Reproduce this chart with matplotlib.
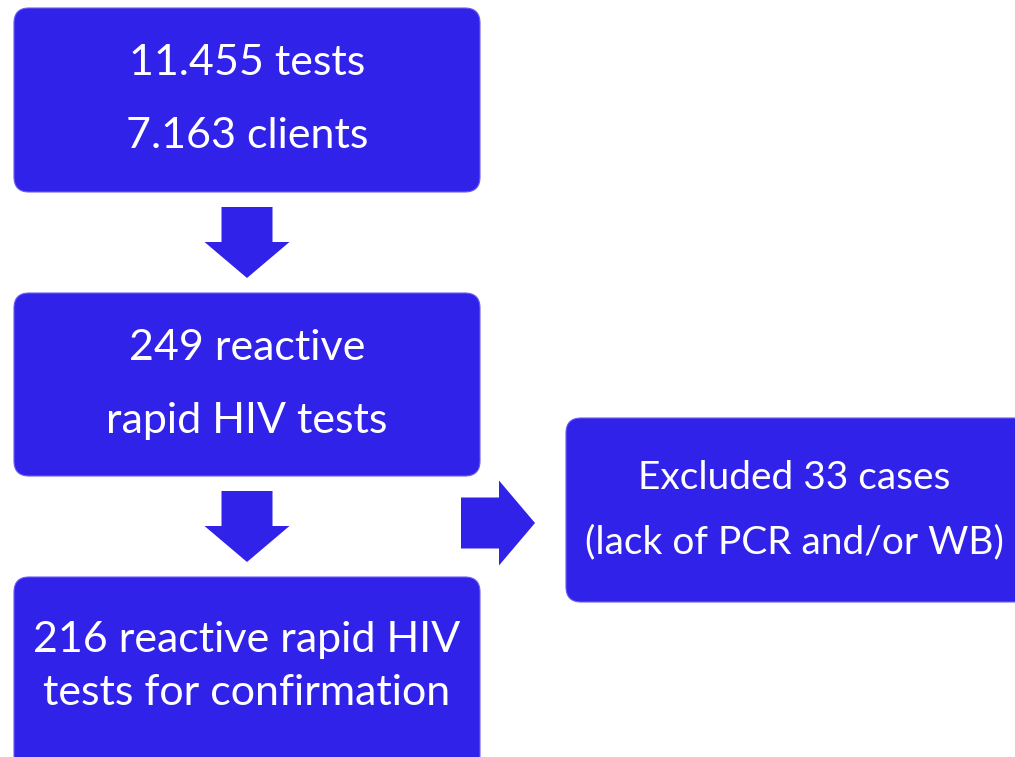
import matplotlib
matplotlib.use("Agg")
from matplotlib import pyplot as plt
from matplotlib.patches import FancyBboxPatch, FancyArrow

# flowchart content
box_labels = [
    ["11.455 tests", "7.163 clients"],
    ["249 reactive", "rapid HIV tests"],
    ["216 reactive rapid HIV", "tests for confirmation"],
    ["Excluded 33 cases", "(lack of PCR and/or WB)"],
]

# layout in pixel units (x0, y0, x1, y1), y grows downwards
box_rects = [(14, 8, 480, 192), (14, 293, 480, 476), (14, 577, 480, 775), (566, 418, 1040, 602)]
text_x = [247, 247, 247, 794]
line_ys = [[63, 136], [348, 421], [640, 693], [478, 542]]
box_fontsize = [31, 31, 31, 28]

# arrows: (x, y, dx, dy)
arrows = [(247, 207, 0, 71), (247, 491, 0, 71), (461, 523, 74, 0)]

fill = "#3122e9"

plt.rcParams['font.family'] = ['Lato', 'DejaVu Sans']

fig = plt.figure(figsize=(10.15, 7.57), dpi=100)
ax = fig.add_axes([0, 0, 1, 1])
ax.set_xlim(0, 1015)
ax.set_ylim(757, 0)
ax.axis("off")

for (x0, y0, x1, y1), lines, cx, ys, fs in zip(box_rects, box_labels, text_x, line_ys, box_fontsize):
    ax.add_patch(FancyBboxPatch((x0, y0), x1 - x0, y1 - y0,
                                boxstyle="round,pad=0,rounding_size=15",
                                facecolor=fill, edgecolor="#6a5ef0", linewidth=0.8))
    for txt, y in zip(lines, ys):
        ax.text(cx, y, txt, color="white", fontsize=fs, ha="center", va="center")

for x, y, dx, dy in arrows:
    ax.add_patch(FancyArrow(x, y, dx, dy, width=51, head_width=85, head_length=36,
                            length_includes_head=True, color=fill, linewidth=0))

fig.savefig("out.png", dpi=100)
